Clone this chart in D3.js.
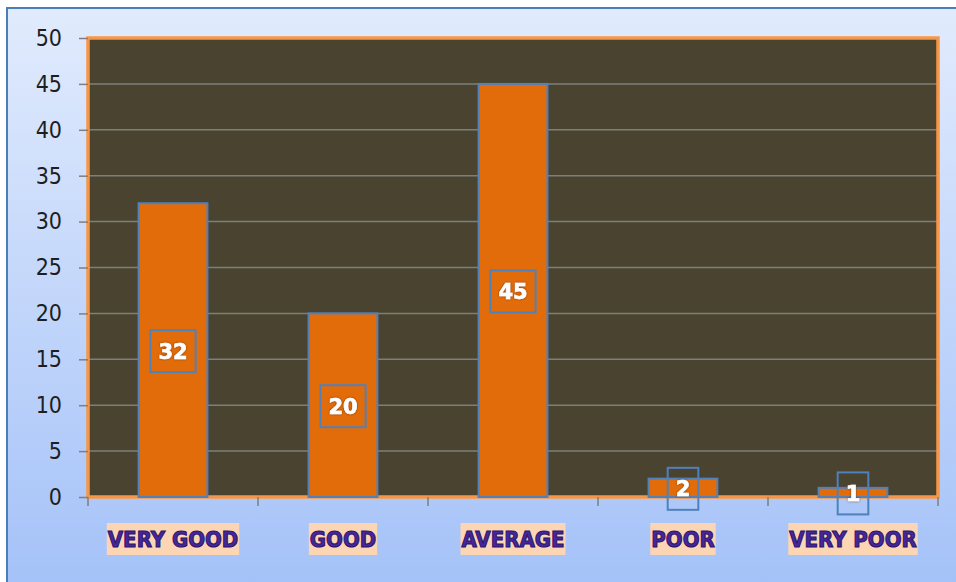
<!DOCTYPE html>
<html>
<head>
<meta charset="utf-8">
<script src="https://cdn.jsdelivr.net/npm/d3@7"></script>
<style>
  body { margin: 0; background: #ffffff; }
  svg { display: block; }
</style>
</head>
<body>
<div id="chart"></div>
<script>
// categories and values
const categories = ["VERY GOOD", "GOOD", "AVERAGE", "POOR", "VERY POOR"];
const values = [32, 20, 45, 2, 1];
const yTicks = [0, 5, 10, 15, 20, 25, 30, 35, 40, 45, 50];

const W = 956, H = 582;
const plot = {left: 88, top: 38, right: 938, bottom: 497};

const svg = d3.select("#chart").append("svg")
    .attr("width", W)
    .attr("height", H);

// background gradient for the chart frame
const defs = svg.append("defs");
const grad = defs.append("linearGradient")
    .attr("id", "bg")
    .attr("x1", 0).attr("y1", 0).attr("x2", 0).attr("y2", 1);
grad.append("stop").attr("offset", "0%").attr("stop-color", "#e1ebfd");
grad.append("stop").attr("offset", "100%").attr("stop-color", "#a3c1f8");

// soft glow for the white numbers
const glow = defs.append("filter").attr("id", "glow")
    .attr("x", "-30%").attr("y", "-30%").attr("width", "160%").attr("height", "160%");
glow.append("feGaussianBlur").attr("in", "SourceAlpha").attr("stdDeviation", 1).attr("result", "b");
glow.append("feFlood").attr("flood-color", "#7a3a00").attr("result", "c");
glow.append("feComposite").attr("in", "c").attr("in2", "b").attr("operator", "in").attr("result", "s");
let m = glow.append("feMerge");
m.append("feMergeNode").attr("in", "s");
m.append("feMergeNode").attr("in", "SourceGraphic");

svg.append("rect")
    .attr("x", 7).attr("y", 8)
    .attr("width", W + 10).attr("height", H + 10)
    .attr("fill", "url(#bg)")
    .attr("stroke", "#4a7ebb")
    .attr("stroke-width", 2);

// scales
const x = d3.scaleBand()
    .domain(categories)
    .range([plot.left, plot.right])
    .paddingInner(0.595)
    .paddingOuter(0.2975);

const y = d3.scaleLinear()
    .domain([0, 50])
    .range([plot.bottom, plot.top]);

// plot area
svg.append("rect")
    .attr("x", plot.left).attr("y", plot.top)
    .attr("width", plot.right - plot.left)
    .attr("height", plot.bottom - plot.top)
    .attr("fill", "#494330");

// gridlines
svg.append("g")
    .selectAll("line")
    .data(yTicks.filter(d => d > 0 && d < 50))
    .enter()
    .append("line")
        .attr("x1", plot.left).attr("x2", plot.right)
        .attr("y1", d => y(d)).attr("y2", d => y(d))
        .attr("stroke", "#7f7f7a")
        .attr("stroke-width", 1.5);

// orange border round the plot
svg.append("rect")
    .attr("x", plot.left).attr("y", plot.top)
    .attr("width", plot.right - plot.left)
    .attr("height", plot.bottom - plot.top)
    .attr("fill", "none")
    .attr("stroke", "#f79646")
    .attr("stroke-width", 3.5);

// y axis
const yAxis = svg.append("g")
    .attr("transform", "translate(" + plot.left + ",0)")
    .call(d3.axisLeft(y).tickValues(yTicks).tickSize(9).tickPadding(17));
yAxis.select(".domain").remove();
yAxis.selectAll(".tick line").attr("stroke", "#7f7f7f").attr("stroke-width", 1.5);
yAxis.selectAll("text")
    .attr("fill", "#1e1e1e")
    .style("font-family", "'DejaVu Sans Condensed', 'DejaVu Sans', sans-serif")
    .style("font-size", "23px");

// x axis ticks sit on the category boundaries
const step = x.step();
svg.append("g")
    .selectAll("line")
    .data(d3.range(categories.length + 1))
    .enter()
    .append("line")
        .attr("x1", i => plot.left + i * step)
        .attr("x2", i => plot.left + i * step)
        .attr("y1", plot.bottom)
        .attr("y2", plot.bottom + 9)
        .attr("stroke", "#7f7f7f")
        .attr("stroke-width", 1.5);

// bars
svg.append("g")
    .selectAll("rect")
    .data(values)
    .enter()
    .append("rect")
        .attr("x", (d, i) => x(categories[i]))
        .attr("y", d => y(d))
        .attr("width", x.bandwidth())
        .attr("height", d => y(0) - y(d))
        .attr("fill", "#e36c0a")
        .attr("stroke", "#4f81bd")
        .attr("stroke-width", 2);

// value labels in little boxes
const labels = svg.append("g")
    .selectAll("g")
    .data(values)
    .enter()
    .append("g")
        .attr("transform", (d, i) => "translate(" + (x(categories[i]) + x.bandwidth() / 2) + "," + (y(d / 2) + 1) + ")");

labels.append("text")
    .attr("text-anchor", "middle")
    .attr("dy", "0.36em")
    .attr("fill", "#ffffff")
    .attr("stroke", "#ffffff")
    .attr("stroke-width", 0.6)
    .attr("filter", "url(#glow)")
    .style("font-family", "'DejaVu Sans', sans-serif")
    .style("font-weight", "bold")
    .style("font-size", "21px")
    .text(d => d);

labels.each(function() {
    let g = d3.select(this);
    let w = g.select("text").node().getComputedTextLength();
    g.insert("rect", "text")
        .attr("x", -w / 2 - 8)
        .attr("y", -21)
        .attr("width", w + 16)
        .attr("height", 42)
        .attr("fill", "none")
        .attr("stroke", "#4f81bd")
        .attr("stroke-width", 2);
});

// category labels with peach backing
const cats = svg.append("g")
    .selectAll("g")
    .data(categories)
    .enter()
    .append("g")
        .attr("transform", d => "translate(" + (x(d) + x.bandwidth() / 2) + ",539)");

cats.append("text")
    .attr("text-anchor", "middle")
    .attr("dy", "0.36em")
    .attr("fill", "#46279c")
    .attr("stroke", "#2a1468")
    .attr("stroke-width", 1)
    .style("font-family", "'DejaVu Sans Condensed', 'DejaVu Sans', sans-serif")
    .style("font-weight", "bold")
    .style("font-size", "22px")
    .text(d => d);

cats.each(function() {
    let g = d3.select(this);
    let w = g.select("text").node().getComputedTextLength();
    g.insert("rect", "text")
        .attr("x", -w / 2 - 1)
        .attr("y", -16)
        .attr("width", w + 2)
        .attr("height", 32)
        .attr("fill", "#fcd5b4");
});
</script>
</body>
</html>
